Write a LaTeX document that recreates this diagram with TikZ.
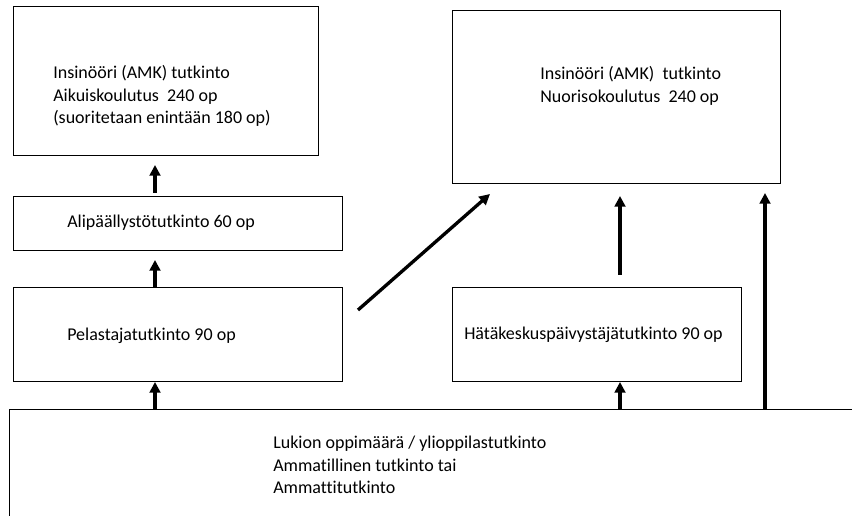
\documentclass[tikz,border=0pt]{standalone}
\usepackage{fontspec}
\setmainfont{Carlito}[Ligatures=NoCommon]
\usetikzlibrary{arrows.meta}
\begin{document}
\begin{tikzpicture}[x=0.75pt,y=-0.75pt,
  box/.style={draw=black,line width=1pt,rectangle,inner sep=0pt,anchor=north west},
  lbl/.style={font=\fontsize{13.5}{16.8}\selectfont,align=left,anchor=west,inner sep=0pt},
  arr/.style={line width=2.5pt,-{Triangle[width=8pt,length=8pt]}}]
\useasboundingbox (0,0) rectangle (852,516);

% degree boxes
\node[box,minimum width=305*0.75pt,minimum height=149*0.75pt] (adult) at (13,6) {};
\node[box,minimum width=329*0.75pt,minimum height=54*0.75pt] (ali) at (13,196) {};
\node[box,minimum width=329*0.75pt,minimum height=94*0.75pt] (pel) at (13,287) {};
\node[box,minimum width=328*0.75pt,minimum height=173*0.75pt] (youth) at (452,10) {};
\node[box,minimum width=289*0.75pt,minimum height=94*0.75pt] (hat) at (452,287) {};
\begin{scope}
  \clip (0,0) rectangle (852,516);
  \node[box,minimum width=900*0.75pt,minimum height=160*0.75pt] (base) at (9,409) {};
\end{scope}

% labels
\node[lbl] (adultT) at (53,96) {Insinööri (AMK) tutkinto\\Aikuiskoulutus\ \ 240 op\\(suoritetaan enintään 180 op)};
\node[lbl] (aliT) at (67,223) {Alipäällystötutkinto 60 op};
\node[lbl] (pelT) at (67,336) {Pelastajatutkinto 90 op};
\node[lbl] (youthT) at (540,86) {Insinööri (AMK)\ \ tutkinto\\Nuorisokoulutus\ \ 240 op};
\node[lbl] (hatT) at (464,335) {Hätäkeskuspäivystäjätutkinto 90 op};
\node[lbl] (baseT) at (273,465) {Lukion oppimäärä / ylioppilastutkinto\\Ammatillinen tutkinto tai\\Ammattitutkinto};

% arrow end points
\coordinate (b1) at (155,409);  \coordinate (p1) at (155,382);
\coordinate (p2) at (155,287);  \coordinate (a2) at (155,260);
\coordinate (a3) at (155,193);  \coordinate (d3) at (155,165);
\coordinate (b4) at (620,409);  \coordinate (h4) at (620,382);
\coordinate (h5) at (620,275);  \coordinate (y5) at (620,196);
\coordinate (b6) at (765,409);  \coordinate (y6) at (765,193);
\coordinate (p7) at (358,310);  \coordinate (y7) at (490,194);

% connectors
\draw[arr] (b1) -- (p1);
\draw[arr] (p2) -- (a2);
\draw[arr] (a3) -- (d3);
\draw[arr] (b4) -- (h4);
\draw[arr] (h5) -- (y5);
\draw[arr] (b6) -- (y6);
\draw[arr] (p7) -- (y7);
\end{tikzpicture}
\end{document}
